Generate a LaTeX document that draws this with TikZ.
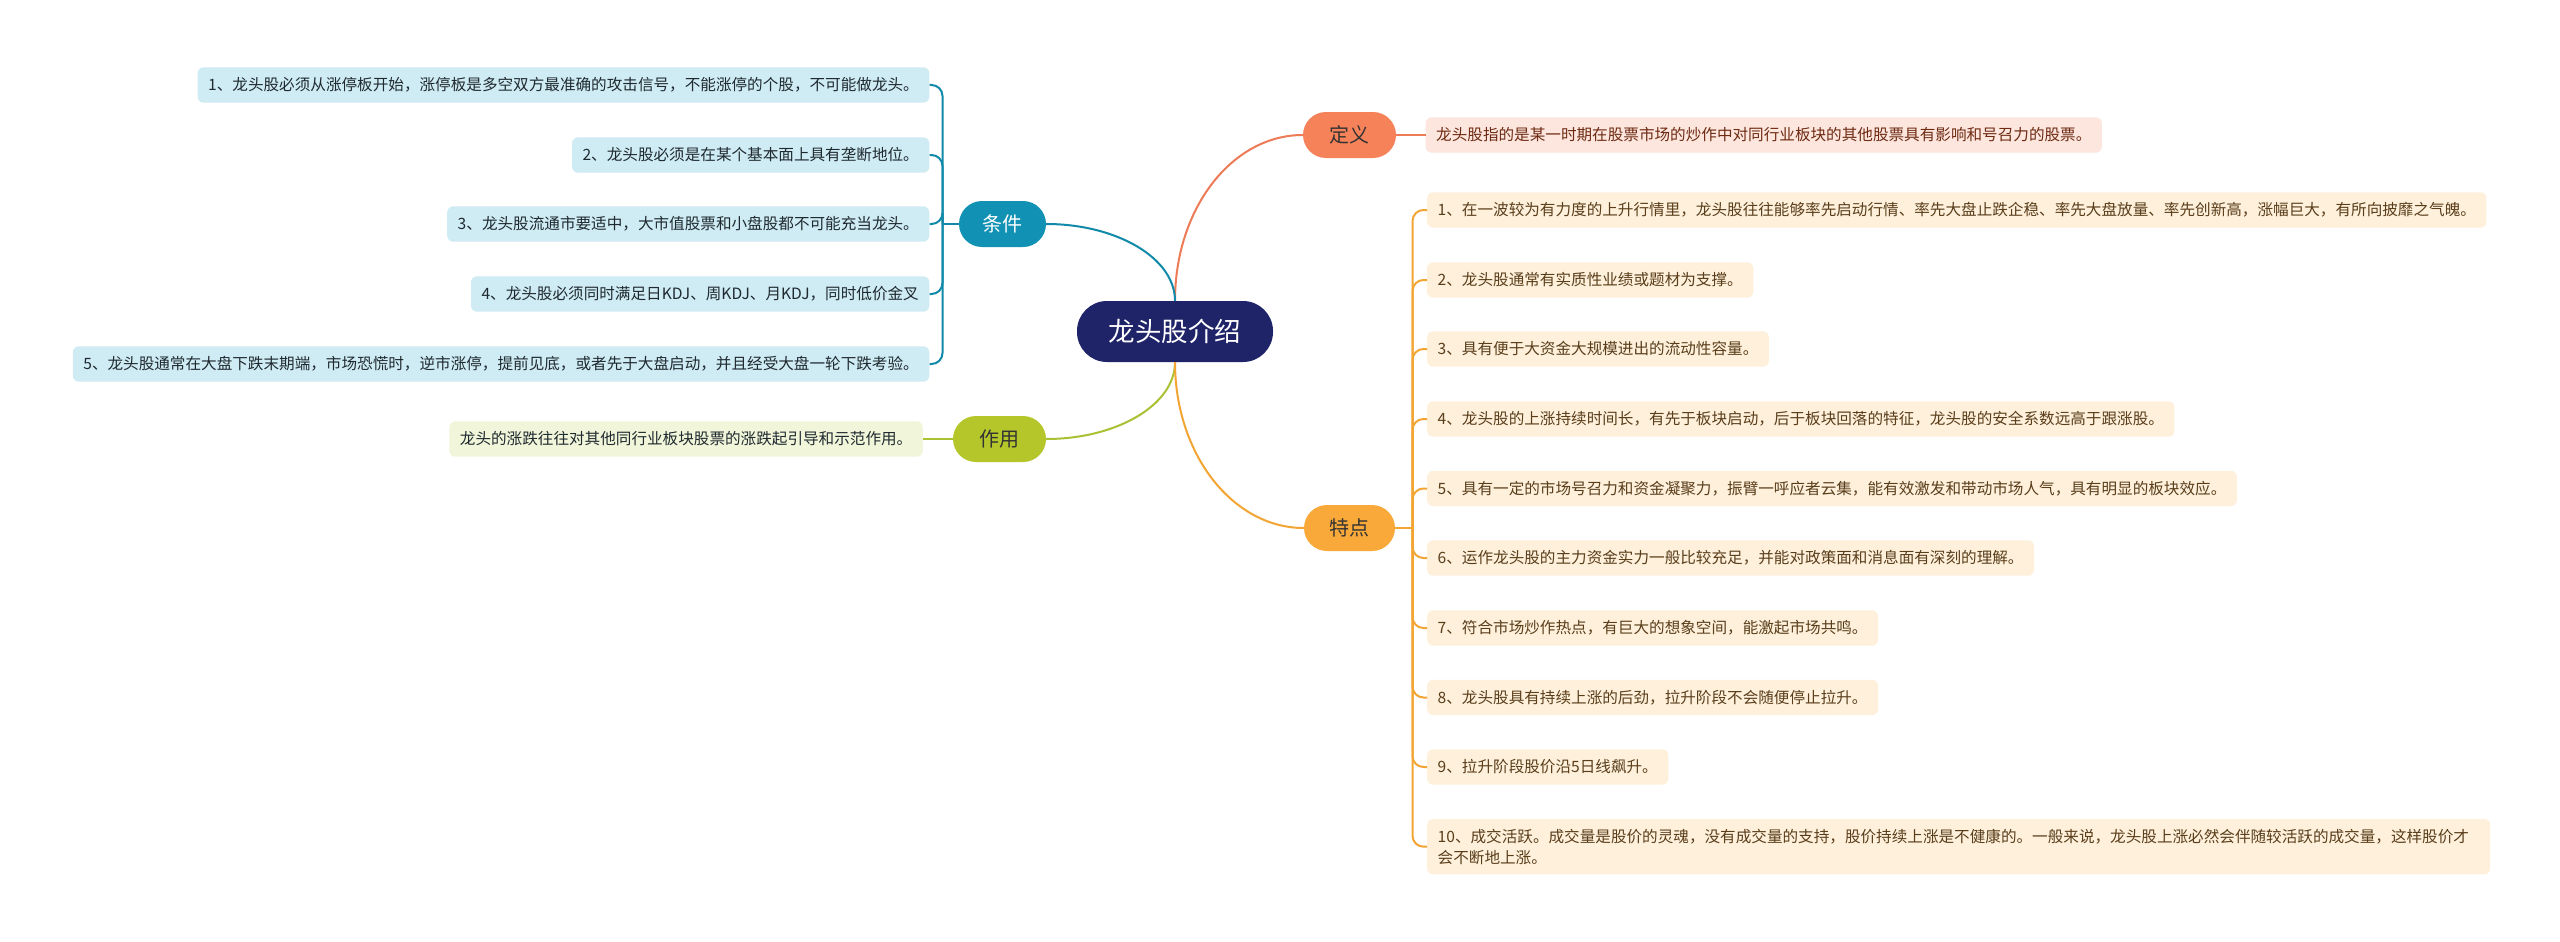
\documentclass[tikz,border=0pt]{standalone}
\usepackage{fontspec}
\setmainfont{Noto Sans CJK SC}
\definecolor{rootc}{HTML}{1F2468}
\definecolor{condc}{HTML}{1192B5}
\definecolor{condl}{HTML}{1189A8}
\definecolor{condf}{HTML}{CFEBF3}
\definecolor{usec}{HTML}{B5C62B}
\definecolor{usel}{HTML}{A9C133}
\definecolor{usef}{HTML}{F1F5D9}
\definecolor{defc}{HTML}{F6825A}
\definecolor{defl}{HTML}{EE7B57}
\definecolor{deff}{HTML}{FCE6DE}
\definecolor{deft}{HTML}{6E2A12}
\definecolor{featc}{HTML}{F8A93A}
\definecolor{featl}{HTML}{F2A533}
\definecolor{featf}{HTML}{FEF0DA}
\definecolor{featt}{HTML}{5A3E1C}
\definecolor{leaft}{HTML}{1F2A30}
\tikzset{
  rootnode/.style={fill=rootc, text=white, rounded corners=30pt, minimum width=196pt, minimum height=61pt, inner sep=0pt, font=\fontsize{26.5pt}{30pt}\selectfont},
  branchnode/.style={rounded corners=23pt, minimum height=46pt, inner sep=0pt, font=\fontsize{20pt}{24pt}\selectfont},
  leafnode/.style={rounded corners=6pt, minimum height=35.4pt, inner xsep=10.5pt, inner ysep=0pt, font=\fontsize{15.6pt}{20.7pt}\selectfont},
  conn/.style={line width=2pt},
}
\begin{document}
\begin{tikzpicture}[x=1pt,y=-1pt]
\fill[white] (0,0) rectangle (2560,942);
\useasboundingbox (0,0) rectangle (2560,942);

% root and branches
\node[rootnode] (root) at (1175,331.5) {龙头股介绍};
\node[branchnode, fill=defc, text=black!80, minimum width=93pt] (def) at (1349.5,135) {定义};
\node[branchnode, fill=condc, text=white, minimum width=87pt] (cond) at (1002.5,224) {条件};
\node[branchnode, fill=usec, text=black!80, minimum width=93pt] (use) at (999.5,439) {作用};
\node[branchnode, fill=featc, text=black!80, minimum width=91pt] (feat) at (1349.5,528) {特点};

% root connectors
\draw[conn, defl] (root.north) .. controls +(0,-92) and +(-71,0) .. (def.west);
\draw[conn, condl] (root.north) .. controls +(0,-43) and +(70,0) .. (cond.east);
\draw[conn, usel] (root.south) .. controls +(0,43) and +(70,0) .. (use.east);
\draw[conn, featl] (root.south) .. controls +(0,92) and +(-71,0) .. (feat.west);

% definition
\node[leafnode, fill=deff, text=deft, anchor=west] (d1) at (1425.5,135) {龙头股指的是某一时期在股票市场的炒作中对同行业板块的其他股票具有影响和号召力的股票。};
\draw[conn, defl] (def.east) -- (d1.west);

% use
\node[leafnode, fill=usef, text=leaft, anchor=east] (u1) at (923,439) {龙头的涨跌往往对其他同行业板块股票的涨跌起引导和示范作用。};
\draw[conn, usel] (use.west) -- (u1.east);

% conditions
\node[leafnode, fill=condf, text=leaft, anchor=east] (c1) at (929.5,85) {1、龙头股必须从涨停板开始，涨停板是多空双方最准确的攻击信号，不能涨停的个股，不可能做龙头。};
\node[leafnode, fill=condf, text=leaft, anchor=east] (c2) at (929.5,155) {2、龙头股必须是在某个基本面上具有垄断地位。};
\node[leafnode, fill=condf, text=leaft, anchor=east] (c3) at (929.5,224) {3、龙头股流通市要适中，大市值股票和小盘股都不可能充当龙头。};
\node[leafnode, fill=condf, text=leaft, anchor=east] (c4) at (929.5,294) {4、龙头股必须同时满足日KDJ、周KDJ、月KDJ，同时低价金叉};
\node[leafnode, fill=condf, text=leaft, anchor=east] (c5) at (929.5,364) {5、龙头股通常在大盘下跌末期端，市场恐慌时，逆市涨停，提前见底，或者先于大盘启动，并且经受大盘一轮下跌考验。};
\coordinate (ct) at (942.5,224);
\draw[conn, condl] (cond.west) -- (ct);
\foreach \n in {c1,c2,c3,c4,c5}{
  \draw[conn, condl, rounded corners=11pt] (ct) |- (\n.east);
}

% features
\node[leafnode, fill=featf, text=featt, anchor=west] (f1) at (1427,210) {1、在一波较为有力度的上升行情里，龙头股往往能够率先启动行情、率先大盘止跌企稳、率先大盘放量、率先创新高，涨幅巨大，有所向披靡之气魄。};
\node[leafnode, fill=featf, text=featt, anchor=west] (f2) at (1427,280) {2、龙头股通常有实质性业绩或题材为支撑。};
\node[leafnode, fill=featf, text=featt, anchor=west] (f3) at (1427,349) {3、具有便于大资金大规模进出的流动性容量。};
\node[leafnode, fill=featf, text=featt, anchor=west] (f4) at (1427,419) {4、龙头股的上涨持续时间长，有先于板块启动，后于板块回落的特征，龙头股的安全系数远高于跟涨股。};
\node[leafnode, fill=featf, text=featt, anchor=west] (f5) at (1427,488.5) {5、具有一定的市场号召力和资金凝聚力，振臂一呼应者云集，能有效激发和带动市场人气，具有明显的板块效应。};
\node[leafnode, fill=featf, text=featt, anchor=west] (f6) at (1427,558) {6、运作龙头股的主力资金实力一般比较充足，并能对政策面和消息面有深刻的理解。};
\node[leafnode, fill=featf, text=featt, anchor=west] (f7) at (1427,628) {7、符合市场炒作热点，有巨大的想象空间，能激起市场共鸣。};
\node[leafnode, fill=featf, text=featt, anchor=west] (f8) at (1427,697.5) {8、龙头股具有持续上涨的后劲，拉升阶段不会随便停止拉升。};
\node[leafnode, fill=featf, text=featt, anchor=west] (f9) at (1427,767) {9、拉升阶段股价沿5日线飙升。};
\node[leafnode, fill=featf, text=featt, anchor=west, minimum height=55.3pt, text width=1042pt, align=left] (f10) at (1427,846.7) {10、成交活跃。成交量是股价的灵魂，没有成交量的支持，股价持续上涨是不健康的。一般来说，龙头股上涨必然会伴随较活跃的成交量，这样股价才\\会不断地上涨。};
\coordinate (ft) at (1412.5,528);
\draw[conn, featl] (feat.east) -- (ft);
\foreach \n in {f1,f2,f3,f4,f5,f6,f7,f8,f9,f10}{
  \draw[conn, featl, rounded corners=11pt] (ft) |- (\n.west);
}
\end{tikzpicture}
\end{document}
